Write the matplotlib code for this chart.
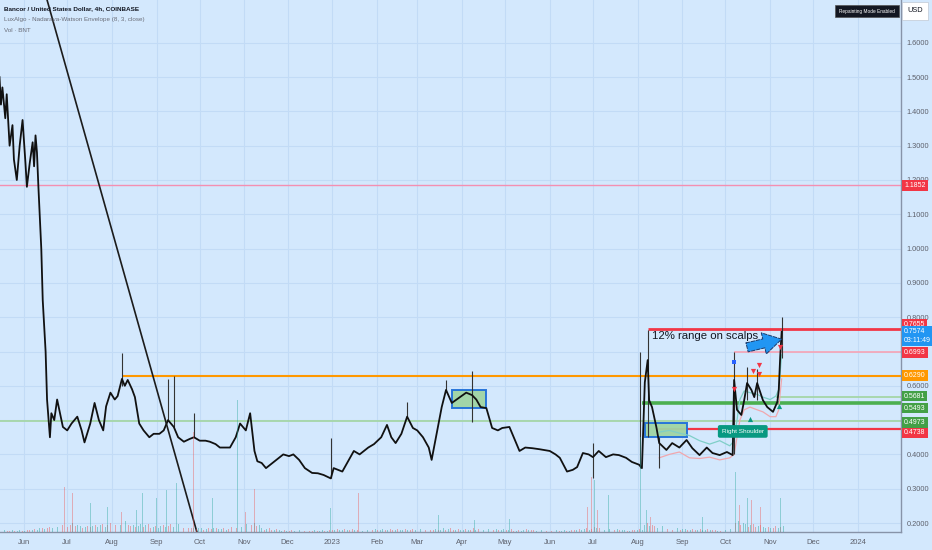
import numpy as np
import pandas as pd
import matplotlib
matplotlib.use("Agg")
import matplotlib.pyplot as plt
import matplotlib.dates as mdates
import matplotlib.transforms as mtransforms
from matplotlib.patches import Rectangle

# ---- price (approximate closes) ----
price_dates = [
    "2022-05-15", "2022-05-16", "2022-05-17", "2022-05-19", "2022-05-20", "2022-05-22",
    "2022-05-24", "2022-05-25", "2022-05-27", "2022-05-29", "2022-05-31", "2022-06-02",
    "2022-06-03", "2022-06-05", "2022-06-07", "2022-06-08", "2022-06-09", "2022-06-10",
    "2022-06-11", "2022-06-13", "2022-06-14", "2022-06-16", "2022-06-17", "2022-06-19",
    "2022-06-20", "2022-06-22", "2022-06-24", "2022-06-26", "2022-06-28", "2022-07-01",
    "2022-07-04", "2022-07-08", "2022-07-11", "2022-07-13", "2022-07-17", "2022-07-20",
    "2022-07-23", "2022-07-26", "2022-07-28", "2022-07-31", "2022-08-03", "2022-08-05",
    "2022-08-08", "2022-08-10", "2022-08-12", "2022-08-15", "2022-08-17", "2022-08-20",
    "2022-08-23", "2022-08-27", "2022-08-30", "2022-09-03", "2022-09-06", "2022-09-09",
    "2022-09-13", "2022-09-16", "2022-09-20", "2022-09-24", "2022-09-27", "2022-10-01",
    "2022-10-05", "2022-10-08", "2022-10-12", "2022-10-15", "2022-10-19", "2022-10-22",
    "2022-10-26", "2022-10-29", "2022-11-02", "2022-11-05", "2022-11-08", "2022-11-10",
    "2022-11-13", "2022-11-16", "2022-11-19", "2022-11-22", "2022-11-25", "2022-11-28",
    "2022-12-02", "2022-12-05", "2022-12-09", "2022-12-13", "2022-12-18", "2022-12-22",
    "2022-12-26", "2022-12-31", "2023-01-02", "2023-01-05", "2023-01-08", "2023-01-12",
    "2023-01-16", "2023-01-20", "2023-01-26", "2023-01-30", "2023-02-04", "2023-02-08",
    "2023-02-11", "2023-02-14", "2023-02-18", "2023-02-22", "2023-02-26", "2023-03-01",
    "2023-03-05", "2023-03-09", "2023-03-11", "2023-03-14", "2023-03-18", "2023-03-21",
    "2023-03-25", "2023-03-30", "2023-04-04", "2023-04-08", "2023-04-11", "2023-04-14",
    "2023-04-18", "2023-04-22", "2023-04-26", "2023-04-29", "2023-05-04", "2023-05-08",
    "2023-05-11", "2023-05-15", "2023-05-20", "2023-05-25", "2023-06-01", "2023-06-05",
    "2023-06-08", "2023-06-13", "2023-06-17", "2023-06-20", "2023-06-24", "2023-06-28",
    "2023-07-01", "2023-07-05", "2023-07-10", "2023-07-15", "2023-07-19", "2023-07-24",
    "2023-07-28", "2023-08-02", "2023-08-04", "2023-08-06", "2023-08-08", "2023-08-09",
    "2023-08-11", "2023-08-14", "2023-08-16", "2023-08-21", "2023-08-25", "2023-08-30",
    "2023-09-04", "2023-09-08", "2023-09-13", "2023-09-18", "2023-09-22", "2023-09-27",
    "2023-10-02", "2023-10-06", "2023-10-07", "2023-10-09", "2023-10-12", "2023-10-14",
    "2023-10-16", "2023-10-19", "2023-10-21", "2023-10-23", "2023-10-27", "2023-10-30",
    "2023-11-03", "2023-11-06", "2023-11-07", "2023-11-08", "2023-11-09",
]
price_close = [
    1.50, 1.42, 1.47, 1.38, 1.45, 1.30,
    1.36, 1.26, 1.20, 1.30, 1.375, 1.25,
    1.18, 1.25, 1.31, 1.24, 1.33, 1.28,
    1.18, 1.00, 0.85, 0.70, 0.56, 0.45,
    0.52, 0.50, 0.56, 0.52, 0.48, 0.47,
    0.49, 0.51, 0.47, 0.435, 0.49, 0.55,
    0.50, 0.47, 0.54, 0.58, 0.56, 0.57,
    0.62, 0.60, 0.617, 0.59, 0.567, 0.49,
    0.47, 0.45, 0.46, 0.46, 0.47, 0.50,
    0.48, 0.45, 0.437, 0.445, 0.45, 0.44,
    0.44, 0.437, 0.43, 0.42, 0.42, 0.42,
    0.45, 0.49, 0.47, 0.52, 0.41, 0.38,
    0.375, 0.36, 0.37, 0.38, 0.39, 0.40,
    0.395, 0.40, 0.384, 0.36, 0.346, 0.345,
    0.34, 0.33, 0.36, 0.355, 0.35, 0.38,
    0.41, 0.40, 0.42, 0.43, 0.45, 0.486,
    0.45, 0.433, 0.46, 0.51, 0.477, 0.47,
    0.45, 0.42, 0.384, 0.45, 0.538, 0.588,
    0.55, 0.565, 0.58, 0.573, 0.56, 0.538,
    0.535, 0.477, 0.47, 0.477, 0.48, 0.44,
    0.41, 0.42, 0.418, 0.415, 0.41, 0.40,
    0.39, 0.35, 0.355, 0.363, 0.404, 0.40,
    0.392, 0.41, 0.392, 0.40, 0.398, 0.39,
    0.378, 0.37, 0.36, 0.61, 0.675, 0.558,
    0.538, 0.48, 0.433, 0.413, 0.433, 0.42,
    0.442, 0.418, 0.398, 0.42, 0.404, 0.398,
    0.407, 0.398, 0.617, 0.53, 0.515, 0.558,
    0.608, 0.588, 0.567, 0.608, 0.558, 0.538,
    0.524, 0.553, 0.588, 0.685, 0.7574,
]

# long wicks visible on the chart
wick_dates = ["2022-08-08", "2022-09-09", "2022-09-13", "2022-09-27", "2022-12-31",
              "2023-02-22", "2023-03-21", "2023-04-08", "2023-07-01", "2023-08-03",
              "2023-08-08", "2023-08-16", "2023-10-07", "2023-10-16", "2023-10-23",
              "2023-11-09"]
wick_low = [0.60, 0.50, 0.48, 0.45, 0.33, 0.51, 0.588, 0.495, 0.33, 0.36,
            0.45, 0.36, 0.40, 0.56, 0.56, 0.68]
wick_high = [0.696, 0.62, 0.63, 0.52, 0.448, 0.553, 0.617, 0.643, 0.433, 0.70,
             0.763, 0.45, 0.70, 0.655, 0.65, 0.80]

# Nadaraya-Watson envelope
env_dates = ["2023-08-16", "2023-08-23", "2023-08-30", "2023-09-06", "2023-09-13",
             "2023-09-20", "2023-09-27", "2023-10-04", "2023-10-07", "2023-10-11",
             "2023-10-14", "2023-10-18", "2023-10-23", "2023-10-27", "2023-11-01",
             "2023-11-05", "2023-11-07", "2023-11-08", "2023-11-09"]
env_upper = [0.465, 0.47, 0.462, 0.455, 0.44, 0.43, 0.44, 0.425, 0.44, 0.56,
             0.585, 0.58, 0.575, 0.567, 0.56, 0.57, 0.59, 0.64, 0.69]
env_lower = [0.39, 0.40, 0.407, 0.39, 0.388, 0.392, 0.384, 0.39, 0.40, 0.50,
             0.53, 0.538, 0.53, 0.524, 0.51, 0.51, 0.53, 0.58, 0.62]

sig_up_dates = ["2023-10-18", "2023-11-07"]
sig_up_prices = [0.503, 0.541]
sig_dn_dates = ["2023-10-07", "2023-10-20", "2023-10-24", "2023-10-24", "2023-11-08"]
sig_dn_prices = [0.591, 0.643, 0.661, 0.634, 0.713]
sig_dot_dates = ["2023-10-07"]
sig_dot_prices = [0.669]

# volume (thousand BNT)
vol_week_start = "2022-05-15"
vol_week = [40, 40, 40, 60, 100, 120, 180, 200, 140, 160, 180, 200, 240, 160, 180, 140,
            160, 180, 120, 100, 80, 100, 80, 120, 180, 200, 80, 60, 40, 40, 40, 40,
            40, 60, 60, 60, 40, 60, 60, 60, 60, 60, 60, 60, 80, 60, 60, 80, 60, 60,
            60, 40, 60, 40, 40, 40, 40, 60, 80, 120, 60, 60, 40, 60, 200, 140, 80, 80,
            60, 60, 60, 40, 60, 240, 180, 160, 120, 140]
vol_spike_dates = ["2022-06-29", "2022-07-05", "2022-07-17", "2022-07-29", "2022-08-08",
                   "2022-08-18", "2022-08-22", "2022-09-01", "2022-09-08", "2022-09-15",
                   "2022-09-27", "2022-10-10", "2022-10-27", "2022-11-02", "2022-11-08",
                   "2022-12-31", "2023-01-19", "2023-03-16", "2023-04-10", "2023-05-04",
                   "2023-06-27", "2023-06-30", "2023-07-02", "2023-07-04", "2023-07-12",
                   "2023-08-03", "2023-08-07", "2023-08-10", "2023-09-15", "2023-10-08",
                   "2023-10-11", "2023-10-16", "2023-10-19", "2023-10-25", "2023-11-08"]
vol_spike = [900, 780, 580, 500, 400, 440, 780, 680, 840, 980,
             2000, 680, 2640, 400, 860, 480, 780, 340, 240, 260,
             500, 1100, 1040, 440, 740, 1900, 440, 300, 300, 1200,
             540, 680, 640, 500, 680]
vol_spike_up = [0, 0, 1, 1, 0, 1, 1, 1, 1, 1, 0, 1, 1, 0, 0, 1, 0, 1, 1, 1,
                0, 0, 1, 0, 1, 1, 1, 0, 1, 1, 0, 1, 0, 0, 1]

# drawings
trend_dates = ["2022-06-17", "2022-09-29"]
trend_prices = [1.725, 0.174]
level_values = [1.1852, 0.7655, 0.6993, 0.6290, 0.5681, 0.5493, 0.4973, 0.4738]
level_starts = ["2022-05-01", "2023-08-08", "2023-10-07", "2022-08-08", "2023-11-05",
                "2023-08-04", "2022-05-01", "2023-08-14"]
level_labels = ["1.1852", "0.7655", "0.6993", "0.6290", "0.5681", "0.5493", "0.4973", "0.4738"]
box_dates = [("2023-03-25", "2023-04-18"), ("2023-08-06", "2023-09-04")]
box_prices = [(0.535, 0.588), (0.451, 0.492)]
arrow_dates = ["2023-10-16", "2023-11-09"]
arrow_prices = [0.712, 0.736]
last_price = 0.7574
hidden_ticks = [0.5, 0.7]   # covered by price tags on the axis

# styles
level_colors = ["#f48fb1", "#f23645", "#f7a3b5", "#ff9800", "#a5d6a7", "#4caf50", "#a5d6a7", "#f23645"]
level_widths = [1.0, 2.0, 1.2, 1.5, 1.3, 2.6, 1.3, 1.6]
label_colors = ["#f23645", "#f23645", "#f23645", "#ff9800", "#43a047", "#43a047", "#43a047", "#f23645"]
label_shift = [0, 3.2, -0.3, 0, 0.5, -3.5, -0.8, -2.8]   # points, keeps tags from overlapping
BG = "#d3e8fd"
NARROW = ["Liberation Sans Narrow", "Liberation Sans", "DejaVu Sans"]

dn = lambda d: mdates.date2num(pd.to_datetime(d))
px_day = 1.4404
x0 = dn("2022-06-01")

fig = plt.figure(figsize=(9.32, 5.5), dpi=100, facecolor=BG)
ax = fig.add_axes([0, 18 / 550, 901 / 932, 532 / 550])
ax.set_facecolor(BG)
ax.set_xlim(x0 - 24 / px_day, x0 + 877 / px_day)
ax.set_ylim(0.2 - 9 / 343, 0.2 + 523 / 343)

# volume overlay
axv = ax.twinx()
axv.set_ylim(0, 532 * 20)
axv.axis("off")
wk = mdates.date2num(pd.date_range(vol_week_start, periods=len(vol_week), freq="7D"))
for i, (x, v) in enumerate(zip(wk, vol_week)):
    c = "#26a69a" if i % 2 else "#ef5350"
    for k in range(4):
        axv.bar(x + k * 1.75, v * (0.6 + 0.15 * ((i + k) % 3)), width=0.6,
                color=c if k % 2 else ("#ef5350" if c == "#26a69a" else "#26a69a"),
                alpha=0.45, linewidth=0)
for d, v, up in zip(vol_spike_dates, vol_spike, vol_spike_up):
    axv.bar(dn(d), v, width=0.7, color="#26a69a" if up else "#ef5350", alpha=0.4, linewidth=0)

# grid and axes
def price_fmt(v, pos):
    if any(abs(v - h) < 1e-6 for h in hidden_ticks):
        return ""
    return f"{v:.4f}"

ax.set_yticks(np.arange(0.2, 1.65, 0.1))
ax.yaxis.set_major_formatter(matplotlib.ticker.FuncFormatter(price_fmt))
ax.yaxis.tick_right()
ax.tick_params(axis="y", length=0, pad=4, labelsize=5.3, labelcolor="#5d606b")
for t in ax.get_yticklabels():
    t.set_family(NARROW)
months = pd.date_range("2022-06-01", "2024-01-01", freq="MS")
ax.set_xticks(mdates.date2num(months))
ax.set_xticklabels([str(m.year) if m.month == 1 else m.strftime("%b") for m in months])
ax.tick_params(axis="x", length=0, pad=5, labelsize=5.5, labelcolor="#5d606b")
for t in ax.get_xticklabels():
    t.set_family(NARROW)
ax.grid(color="#c2dbf6", lw=0.8)
ax.set_axisbelow(True)
for s in ["top", "left"]:
    ax.spines[s].set_visible(False)
for s in ["right", "bottom"]:
    ax.spines[s].set_color("#8793a8")
    ax.spines[s].set_linewidth(1)

# levels
ytrans = mtransforms.blended_transform_factory(ax.transAxes, ax.transData)
for val, st, c, w in zip(level_values, level_starts, level_colors, level_widths):
    ax.plot([dn(st), ax.get_xlim()[1]], [val, val], color=c, lw=w, zorder=2, solid_capstyle="butt")
for val, lab, c, sh in zip(level_values, level_labels, label_colors, label_shift):
    ax.annotate(lab, xy=(1.0035, val), xycoords=ytrans, xytext=(0, sh), textcoords="offset points",
                ha="left", va="center", fontsize=5, color="white", family=NARROW,
                annotation_clip=False, zorder=10,
                bbox=dict(boxstyle="square,pad=0.28", fc=c, ec="none"))
ax.annotate(f"{last_price:.4f}\n03:11:49", xy=(1.0035, last_price), xycoords=ytrans,
            xytext=(0, 2.4), textcoords="offset points", ha="left", va="top",
            fontsize=5, color="white", family=NARROW, linespacing=1.35,
            annotation_clip=False, zorder=11,
            bbox=dict(boxstyle="square,pad=0.3", fc="#2196f3", ec="none"))

# boxes
for (d1, d2), (p1, p2) in zip(box_dates, box_prices):
    ax.add_patch(Rectangle((dn(d1), p1), dn(d2) - dn(d1), p2 - p1, fc="#a0d4a4", ec="#1e6fd9",
                           lw=1.4, alpha=0.95, zorder=3))

# envelope
ed = [dn(d) for d in env_dates]
ax.plot(ed, env_upper, color="#7fcfc7", lw=0.9, zorder=4)
ax.plot(ed, env_lower, color="#f1a7ad", lw=0.9, zorder=4)

# price
pdn = [dn(d) for d in price_dates]
ax.vlines([dn(d) for d in wick_dates], wick_low, wick_high, color="#333333", lw=0.8, zorder=5)
ax.plot(pdn, price_close, color="#111111", lw=1.3, zorder=5)

# trendline
ax.plot([dn(d) for d in trend_dates], trend_prices, color="#1c1c1c", lw=1.2, zorder=6)

# signals
ax.scatter([dn(d) for d in sig_dn_dates], sig_dn_prices, marker="v", s=14, color="#f23645", zorder=7, lw=0)
ax.scatter([dn(d) for d in sig_up_dates], sig_up_prices, marker="^", s=14, color="#089981", zorder=7, lw=0)
ax.scatter([dn(d) for d in sig_dot_dates], sig_dot_prices, marker="s", s=8, color="#2962ff", zorder=7, lw=0)

# annotations
ax.text(dn("2023-08-11"), 0.744, "12% range on scalps", fontsize=8.2, color="#131722",
        family=NARROW, va="center", zorder=8)
ax.annotate("", xy=(dn(arrow_dates[1]), arrow_prices[1]),
            xytext=(dn(arrow_dates[0]), arrow_prices[0]),
            arrowprops=dict(arrowstyle="simple,head_width=1.3,head_length=1.1,tail_width=0.55",
                            fc="#2196f3", ec="#1a3a6b", ls="--", lw=0.7, mutation_scale=12,
                            shrinkA=0, shrinkB=0),
            zorder=8)
ax.text(dn("2023-10-13"), 0.467, "Right Shoulder", fontsize=4.6, color="white", ha="center",
        va="center", zorder=8, family=NARROW,
        bbox=dict(boxstyle="round,pad=0.6,rounding_size=0.3", fc="#089981", ec="none"))

# header texts
fig.text(4 / 932, 1 - 9 / 550, "Bancor / United States Dollar, 4h, COINBASE", fontsize=4.6,
         color="#131722", fontweight="bold", va="center", family=NARROW)
fig.text(4 / 932, 1 - 20 / 550, "LuxAlgo - Nadaraya-Watson Envelope (8, 3, close)", fontsize=4.5,
         color="#6a6d78", va="center", family=NARROW)
fig.text(4 / 932, 1 - 30 / 550, "Vol · BNT", fontsize=4.5, color="#6a6d78", va="center", family=NARROW)
fig.text(867 / 932, 1 - 11 / 550, "Repainting Mode Enabled", fontsize=3.4, color="white",
         ha="center", va="center", family=NARROW,
         bbox=dict(boxstyle="square,pad=0.8", fc="#131722", ec="#555555", lw=0.5))
fig.text(915 / 932, 1 - 11 / 550, "USD", fontsize=5.3, color="#131722", ha="center", va="center",
         family=NARROW,
         bbox=dict(boxstyle="square,pad=0.7", fc="white", ec="#c0c8d4", lw=0.5))

fig.savefig("out.png", dpi=100, facecolor=BG)
